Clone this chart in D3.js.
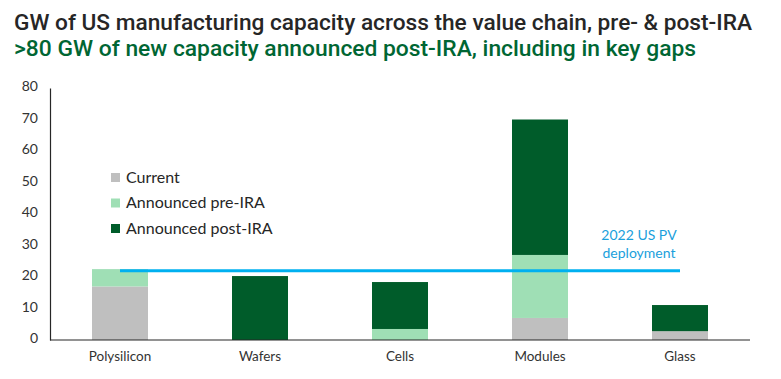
<!DOCTYPE html>
<html lang="en">
<head>
<meta charset="UTF-8">
<title>US manufacturing capacity</title>
<script src="https://d3js.org/d3.v7.min.js"></script>
<style>
    body { margin: 0; background: #fff; }
    text { font-family: Lato, "Open Sans", sans-serif; }
    .title { font-family: Roboto, Lato, sans-serif; }
</style>
</head>
<body>
<div id="chart"></div>
<script>
    // data
    const categories = ["Polysilicon", "Wafers", "Cells", "Modules", "Glass"];
    const current = [17, 0, 0, 7, 2.8];
    const preIRA = [5.5, 0, 3.5, 20, 0];
    const postIRA = [0, 20.3, 14.9, 43, 8.3];
    const deployment2022 = 22;
    const yTicks = [0, 10, 20, 30, 40, 50, 60, 70, 80];
    const seriesNames = ["Current", "Announced pre-IRA", "Announced post-IRA"];
    const colors = ["#bfbfbf", "#9fdfb5", "#005c2a"];

    const width = 781, height = 379;
    const margin = { top: 88, right: 31, bottom: 39, left: 50 };

    const svg = d3.select("#chart").append("svg")
        .attr("width", width)
        .attr("height", height);

    svg.append("text").attr("class", "title")
        .attr("x", 14).attr("y", 30)
        .attr("font-size", 22).attr("font-weight", 500)
        .attr("fill", "#262626")
        .attr("textLength", 738).attr("lengthAdjust", "spacingAndGlyphs")
        .text("GW of US manufacturing capacity across the value chain, pre- & post-IRA");
    svg.append("text").attr("class", "title")
        .attr("x", 14).attr("y", 56)
        .attr("font-size", 22).attr("font-weight", 500)
        .attr("fill", "#006633")
        .attr("textLength", 682).attr("lengthAdjust", "spacingAndGlyphs")
        .text(">80 GW of new capacity announced post-IRA, including in key gaps");

    const x = d3.scaleBand()
        .domain(categories)
        .range([margin.left, width - margin.right])
        .paddingInner(0.6)
        .paddingOuter(0.3);

    const y = d3.scaleLinear()
        .domain([0, 80])
        .range([height - margin.bottom, margin.top]);

    const rows = categories.map((c, i) => ({ cat: c, Current: current[i], "Announced pre-IRA": preIRA[i], "Announced post-IRA": postIRA[i] }));
    const stacked = d3.stack().keys(seriesNames)(rows);

    svg.selectAll(".series")
        .data(stacked)
        .enter().append("g")
        .attr("fill", (d, i) => colors[i])
        .selectAll("rect")
        .data(d => d)
        .enter().append("rect")
        .attr("x", d => x(d.data.cat))
        .attr("width", x.bandwidth())
        .attr("y", d => y(d[1]))
        .attr("height", d => y(d[0]) - y(d[1]));

    // axes
    const yAxis = svg.append("g")
        .attr("transform", `translate(${margin.left},0)`)
        .call(d3.axisLeft(y).tickValues(yTicks).tickSize(0).tickPadding(12));
    yAxis.select(".domain").attr("stroke", "#262626").attr("stroke-width", 1.2);
    yAxis.selectAll("text").attr("font-size", 14).attr("fill", "#333").attr("dy", "0.2em");

    const xAxis = svg.append("g")
        .attr("transform", `translate(0,${y(0)})`)
        .call(d3.axisBottom(x).tickSize(0).tickPadding(11));
    xAxis.select(".domain").attr("stroke", "#262626").attr("stroke-width", 1.2)
        .attr("d", `M${margin.left},0H${width - margin.right}`);
    xAxis.selectAll("text").attr("font-size", 13.5).attr("fill", "#333");

    // 2022 deployment line
    svg.append("line")
        .attr("x1", x("Polysilicon") + x.bandwidth() / 2)
        .attr("x2", x("Glass") + x.bandwidth() / 2)
        .attr("y1", y(deployment2022)).attr("y2", y(deployment2022))
        .attr("stroke", "#00b0f0").attr("stroke-width", 3);
    svg.append("text")
        .attr("x", 639).attr("y", 240)
        .attr("text-anchor", "middle")
        .attr("font-size", 14).attr("fill", "#1aa0dc")
        .text("2022 US PV");
    svg.append("text")
        .attr("x", 639).attr("y", 258)
        .attr("text-anchor", "middle")
        .attr("font-size", 14).attr("fill", "#1aa0dc")
        .text("deployment");

    // legend
    const legend = svg.append("g").attr("transform", "translate(111,172)");
    seriesNames.forEach((name, i) => {
        const g = legend.append("g").attr("transform", `translate(0,${i * 25.5})`);
        g.append("rect").attr("width", 9).attr("height", 9).attr("y", 1).attr("fill", colors[i]);
        g.append("text").attr("x", 15).attr("y", 10.5)
            .attr("font-size", 16).attr("fill", "#262626")
            .text(name);
    });
</script>
</body>
</html>
